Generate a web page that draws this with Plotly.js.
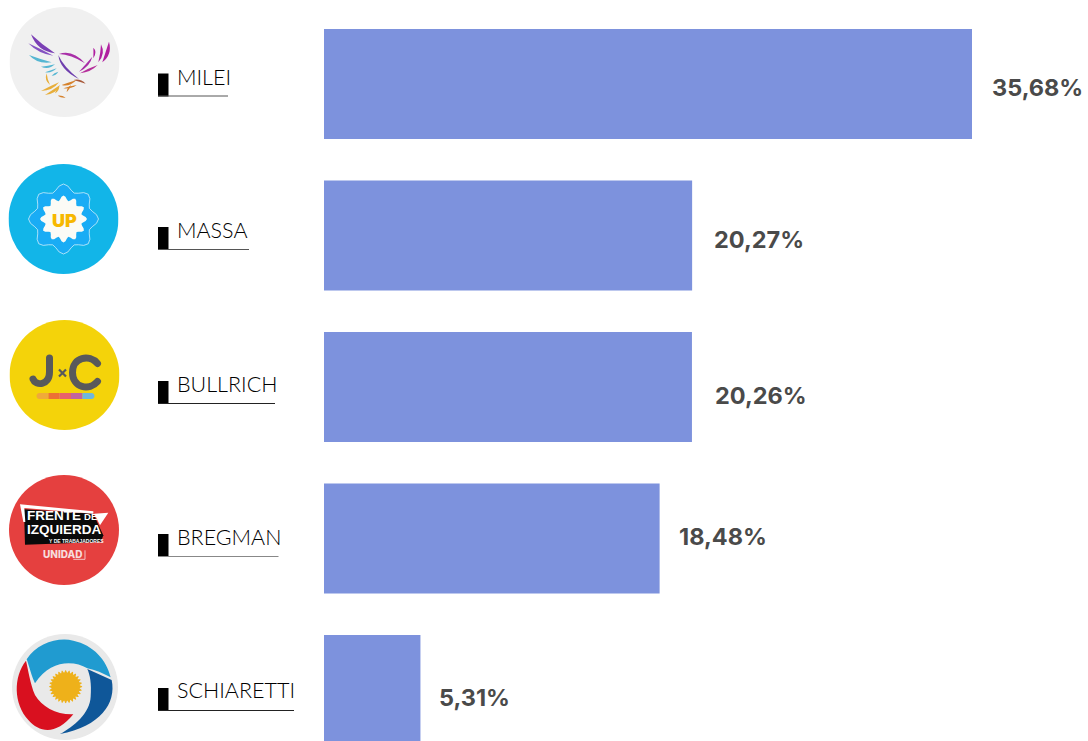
<!DOCTYPE html>
<html>
<head>
<meta charset="utf-8">
<script src="https://cdn.plot.ly/plotly-3.0.1.min.js"></script>
<style>html,body{margin:0;padding:0;background:#fff;overflow:hidden}#chart{width:1088px;height:741px}</style>
</head>
<body>
<div id="chart"></div>
<script>
var candidates = ["MILEI", "MASSA", "BULLRICH", "BREGMAN", "SCHIARETTI"];
var shares = [35.68, 20.27, 20.26, 18.48, 5.31];
var shareLabels = ["35,68%", "20,27%", "20,26%", "18,48%", "5,31%"];

var W = 1088, H = 741;
function px(x){return x/W;}
function py(y){return 1-y/H;}

function svg(body){
  return "data:image/svg+xml;charset=utf-8," + encodeURIComponent(
    '<svg xmlns="http://www.w3.org/2000/svg" width="440" height="440" viewBox="0 0 110 110">'+body+'</svg>');
}
// tapered brush stroke for the eagle drawing
function brush(x0,y0,cx,cy,x1,y1,w,color){
  var dx=x1-x0, dy=y1-y0, l=Math.sqrt(dx*dx+dy*dy)||1, nx=-dy/l*w, ny=dx/l*w;
  return '<path fill="'+color+'" d="M'+x0+' '+y0+'Q'+(cx+nx)+' '+(cy+ny)+' '+x1+' '+y1+'Q'+(cx-nx)+' '+(cy-ny)+' '+x0+' '+y0+'Z"/>';
}
var eagle = [
 [78,88,105,130,150,145,12,'#7b3fb5'], [70,115,105,140,145,152,8,'#8452c2'],
 [72,150,100,170,140,172,9,'#55b6d2'], [108,185,130,190,150,178,6,'#55b6d2'],
 [120,202,140,200,155,190,5,'#55b6d2'], [140,212,150,208,160,200,5,'#55b6d2'],
 [162,147,200,140,240,175,8,'#a92fa8'], [160,150,170,190,222,222,7,'#6f3fae'],
 [222,200,250,180,262,155,7,'#a92fa8'], [225,205,255,195,278,180,7,'#b52e9b'],
 [292,172,312,145,312,110,11,'#b01f9f'], [280,172,295,145,288,118,8,'#b01f9f'],
 [265,160,272,140,265,128,6,'#b01f9f'], [205,225,225,225,242,236,5,'#a8593a'],
 [170,240,190,240,215,225,7,'#d6822c'], [175,250,200,247,215,240,5,'#d6822c'],
 [185,262,190,250,198,240,5,'#d6822c'], [125,205,122,225,135,240,5,'#e7ae3a'],
 [108,258,140,250,162,232,8,'#e7ae3a'], [120,270,150,260,165,240,8,'#e7ae3a'],
 [150,265,158,255,163,243,6,'#e7ae3a'], [158,272,170,275,182,278,5,'#d6822c']
];
var logoMilei = svg(
 '<circle cx="55" cy="55" r="55" fill="#f0f0f0"/>'+
 '<g transform="translate(-4.5,-2) scale(0.3333)">'+
 eagle.map(function(b){return brush.apply(null,b);}).join('')+'</g>');
function gear(cx,cy,rO,rI,n){
  var d='',N=n*6;
  for(var i=0;i<N;i++){
    var t=i/N*2*Math.PI, r=(rO+rI)/2+(rO-rI)/2*Math.cos(n*t);
    d+=(i?'L':'M')+(cx+r*Math.sin(t)).toFixed(2)+' '+(cy-r*Math.cos(t)).toFixed(2);
  }
  return d+'Z';
}
var logoMassa = svg(
 '<circle cx="55" cy="55" r="55" fill="#12b5e8"/>'+
 '<path d="'+gear(55,55,35,28,8)+'" fill="#19acf5" stroke="#cfeefb" stroke-width="0.8"/>'+
 '<path d="'+gear(55,55,23.5,18.5,12)+'" fill="#fbfbf6"/>');
var logoJxC = svg(
 '<circle cx="55" cy="55" r="55" fill="#f4d30a"/>'+
 '<g fill="none" stroke="#58595b" stroke-width="7" stroke-linecap="round">'+
 '<path d="M40 38V52C40 66 26 66 23.5 59"/>'+
 '<path d="M88 43.5C80 34 63 37 63 52.5C63 68 80 71 88 61.5"/>'+
 '</g>'+
 '<path d="M49.5 49.5L56.5 56.5M56.5 49.5L49.5 56.5" stroke="#58595b" stroke-width="2.2"/>'+
 '<path d="M30 73H39V79H30C26 79 26 73 30 73Z" fill="#f0a93a"/>'+
 '<rect x="39" y="73" width="11" height="6" fill="#ec7035"/>'+
 '<rect x="50" y="73" width="11.5" height="6" fill="#e8626a"/>'+
 '<rect x="61.5" y="73" width="11.5" height="6" fill="#c1659f"/>'+
 '<path d="M73 73H82C86 73 86 79 82 79H73Z" fill="#6fb7dc"/>');
var logoFIT = svg(
 '<circle cx="55" cy="55" r="55" fill="#e5403f"/>'+
 '<g transform="translate(-4,-3) scale(0.3333)">'+
 '<path d="M57 112L265 125L295 190L288 210L60 218Z" fill="#0a0a0a"/>'+
 '<path d="M45 97L265 118L265 125L58 108L61 150L55 150Z" fill="#fff"/>'+
 '<path d="M268 125L310 122L285 160Z" fill="#fff"/>'+
 '<path d="M240 235V262H205" fill="none" stroke="#f7dcdc" stroke-width="2.5"/>'+
 '</g>');
var logoSchiaretti = svg(
 '<circle cx="55" cy="55" r="53" fill="#e9e9e9"/>'+
 '<g transform="translate(-10,-12) scale(0.3333)">'+
 '<path d="M80 118C110 70 175 50 220 62C280 75 320 120 332 172C310 160 285 150 262 145C220 120 150 120 105 190C95 170 88 140 80 118Z" fill="#209bd0"/>'+
 '<path d="M78 122C40 170 40 250 85 300C120 340 170 345 220 283C170 285 125 260 105 225C90 190 85 150 78 122Z" fill="#d9101f"/>'+
 '<path d="M262 147L335 180C350 250 300 320 180 342C220 320 270 280 272 230C275 190 270 165 262 147Z" fill="#0f5799"/>'+
 '<path d="'+gear(197,200,50,42,28)+'" fill="#eeb11a"/>'+
 '</g>');

var logos = [
 {src:logoMilei, x:9.5, y:7},
 {src:logoMassa, x:8.5, y:164},
 {src:logoJxC, x:9.5, y:320},
 {src:logoFIT, x:9, y:475},
 {src:logoSchiaretti, x:10, y:632}
];
var images = logos.map(function(l){
  return {source:l.src, xref:'paper', yref:'paper', x:px(l.x), y:py(l.y),
    sizex:110/W, sizey:110/H, sizing:'stretch', xanchor:'left', yanchor:'top', layer:'above'};
});

// label placement (pixels on the page)
var nameStyle = [
 {top:73.5, textY:77,  right:228, line:'#555555'},
 {top:227,  textY:230, right:249, line:'#555555'},
 {top:381,  textY:384, right:275, line:'#222222'},
 {top:534,  textY:537, right:278.5, line:'#888888'},
 {top:688,  textY:690, right:294, line:'#222222'}
];
var valueStyle = [
 {shift:18, y:87}, {shift:20, y:240}, {shift:21, y:395}, {shift:17, y:536}, {shift:17, y:697}
];

var shapes = [], annotations = [];
nameStyle.forEach(function(s,i){
  shapes.push({type:'rect', xref:'paper', yref:'paper', x0:px(158), x1:px(168.5), y0:py(s.top), y1:py(s.top+23),
    fillcolor:'#000', line:{width:0}});
  shapes.push({type:'line', xref:'paper', yref:'paper', x0:px(158), x1:px(s.right), y0:py(s.top+22.5), y1:py(s.top+22.5),
    line:{color:s.line, width:1}});
  annotations.push({xref:'paper', yref:'paper', x:px(175), y:py(s.textY), xanchor:'left', yanchor:'middle',
    text:candidates[i], showarrow:false, font:{family:'Lato, sans-serif', size:21.5, color:'#000', weight:300}});
  annotations.push({xref:'x', yref:'paper', x:shares[i], y:py(valueStyle[i].y), xshift:valueStyle[i].shift,
    xanchor:'left', yanchor:'middle', text:shareLabels[i], showarrow:false,
    font:{family:'Inter, sans-serif', size:23.5, color:'#4a4a4a', weight:700}});
});
function logoText(text,x,y,size,color,weight,family,align){
  annotations.push({xref:'paper', yref:'paper', x:px(x), y:py(y), xanchor:'center', yanchor:'middle', text:text,
    showarrow:false, borderpad:0, align:align||'center',
    font:{family:family||'Inter, sans-serif', size:size, color:color, weight:weight||800}});
}
var sans = '"Liberation Sans", sans-serif';
logoText('UP',64,220,18,'#f7b800',900);
logoText('<span style="font-size:13.5px">FRENTE</span> <span style="font-size:9.5px">DE</span><br><span style="font-size:13.5px">IZQUIERDA</span>',64,522,11,'#fff',700,sans,'left');
logoText('Y DE TRABAJADORES',76.5,541,5,'#fff',700,sans);
logoText('UNIDAD',62,554,10,'#f7dcdc',800);

var pxPerUnit = 648/35.68;
var bandPx = 151.5, barPx = 110, firstCentre = 84;

var trace = {
  type:'bar', orientation:'h', x:shares, y:candidates,
  marker:{color:'#7d92dd', line:{width:0}}, hoverinfo:'skip', cliponaxis:true
};
var layout = {
  width:W, height:H, margin:{l:0,r:0,t:0,b:0,pad:0}, paper_bgcolor:'#fff', plot_bgcolor:'#fff',
  showlegend:false, bargap:1-barPx/bandPx,
  xaxis:{domain:[324/W,1], range:[0,(W-324)/pxPerUnit], visible:false, fixedrange:true},
  yaxis:{type:'category', categoryorder:'array', categoryarray:candidates, visible:false, fixedrange:true,
    range:[(H-firstCentre)/bandPx, -firstCentre/bandPx]},
  shapes:shapes, annotations:annotations, images:images
};
Plotly.newPlot('chart',[trace],layout,{displayModeBar:false,staticPlot:true});
</script>
</body>
</html>
